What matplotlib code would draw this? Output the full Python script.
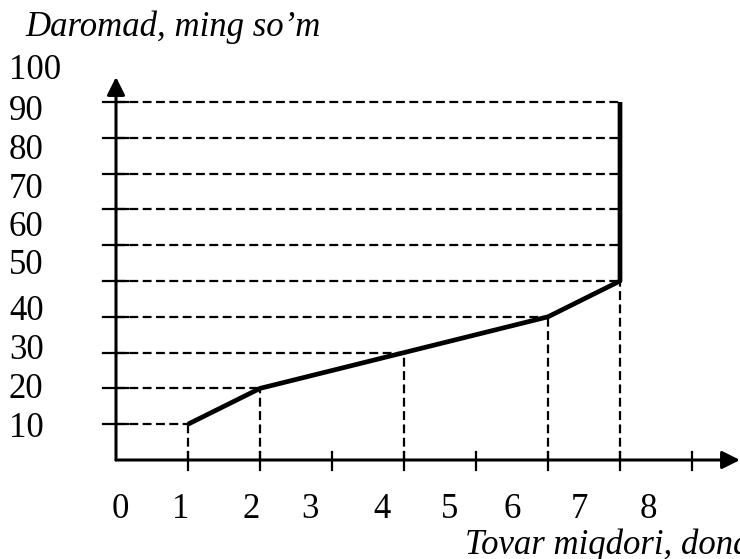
import numpy as np
import matplotlib.pyplot as plt

plt.rcParams['font.family'] = 'Liberation Serif'

# data (tick units: x = dona, y = ming so'm)
xd = [1, 2, 4, 6, 7, 7]
yd = [10, 20, 30, 40, 50, 100]

xticks = [1, 2, 3, 4, 5, 6, 7, 8]
yticks = [10, 20, 30, 40, 50, 60, 70, 80, 90, 100]

# the printed labels drift away from the tick marks in the original
xlabels = ['0', '1', '2', '3', '4', '5', '6', '7', '8']
xlabel_pos = [0.06, 0.9, 1.87, 2.7, 3.69, 4.63, 5.5, 6.43, 7.4]
ylabels = ['10', '20', '30', '40', '50', '60', '70', '80', '90', '100']
ylabel_pos = [9.8, 20.7, 31.8, 42.7, 55.4, 66.2, 76.8, 87.7, 98.6, 109.8]

fig = plt.figure(figsize=(7.4, 5.59), dpi=100)
ax = fig.add_axes([116/740, 99/559, 624/740, 383/559])
ax.set_xlim(0, 624/72)
ax.set_ylim(0, 383/3.58)
for s in ax.spines.values():
    s.set_visible(False)
ax.set_xticks([])
ax.set_yticks([])

dash = (0, (4.0, 2.0))

# dashed guide lines
for lev in yticks:
    xe = np.interp(lev, yd, xd)
    ax.plot([0, xe], [lev, lev], color='k', lw=1.6, linestyle=dash)
for x, y in zip(xd[:-1], yd[:-1]):
    ax.plot([x, x], [0, y], color='k', lw=1.6, linestyle=dash)

# main curve
ax.plot(xd, yd, color='k', lw=3.4, solid_capstyle='butt')

# axes with arrows
ax.annotate('', xy=(0, 383/3.58), xytext=(0, 0),
            arrowprops=dict(arrowstyle='-|>', lw=2.2, color='k', mutation_scale=27,
                            shrinkA=0, shrinkB=0), annotation_clip=False)
ax.annotate('', xy=(624/72, 0), xytext=(0, 0),
            arrowprops=dict(arrowstyle='-|>', lw=2.2, color='k', mutation_scale=27,
                            shrinkA=0, shrinkB=0), annotation_clip=False)

# tick marks crossing the axes
for x in xticks:
    ax.plot([x, x], [-10/3.58, 8/3.58], color='k', lw=1.6, clip_on=False)
for y in yticks:
    ax.plot([-13/72, 12/72], [y, y], color='k', lw=1.6, clip_on=False)

# labels
for t, p in zip(xlabels, xlabel_pos):
    ax.text(p, -45/383, t, transform=ax.get_xaxis_transform(), ha='center',
            va='center_baseline', fontsize=25)
for t, p in zip(ylabels, ylabel_pos):
    ax.text(-107/624, p, t, transform=ax.get_yaxis_transform(), ha='left',
            va='center_baseline', fontsize=25)

fig.text(25/740, 1 - 36/559, 'Daromad, ming so\u2019m', fontsize=25, style='italic',
         ha='left', va='baseline')
fig.text(465/740, 5/559, 'Tovar miqdori, dona', fontsize=25, style='italic',
         ha='left', va='baseline')

fig.savefig('out.png', dpi=100)
